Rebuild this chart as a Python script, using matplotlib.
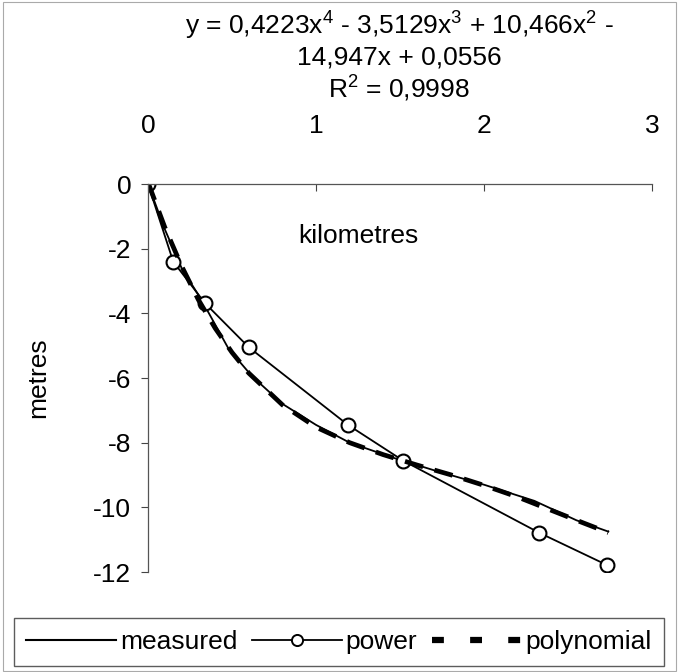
import matplotlib
matplotlib.use('Agg')
import matplotlib.pyplot as plt
from matplotlib.patches import Rectangle
from matplotlib.lines import Line2D

plt.rcParams['font.family'] = ['Liberation Sans', 'DejaVu Sans']
plt.rcParams['mathtext.fontset'] = 'custom'
plt.rcParams['mathtext.rm'] = 'Liberation Sans'
plt.rcParams['mathtext.it'] = 'Liberation Sans'
plt.rcParams['axes.unicode_minus'] = False

# data
x_meas = [0, 0.1, 0.2, 0.32, 0.48, 0.62, 0.8, 1.0, 1.2, 1.45, 1.7, 2.0, 2.3, 2.55, 2.74]
y_meas = [0, -1.4, -2.6, -3.6, -5.1, -5.95, -6.8, -7.45, -8.0, -8.45, -8.85, -9.3, -9.8, -10.4, -10.75]

x_pow = [0, 0.15, 0.34, 0.6, 1.19, 1.52, 2.33, 2.73]
y_pow = [0, -2.4, -3.69, -5.05, -7.45, -8.56, -10.79, -11.78]

x_poly = [0, 0.1, 0.2, 0.3, 0.4, 0.5, 0.6, 0.8, 1.0, 1.2, 1.4, 1.6, 1.8, 2.0, 2.2, 2.4, 2.6, 2.74]
y_poly = [0.05, -1.34, -2.54, -3.58, -4.46, -5.21, -5.85, -6.83, -7.52, -8.0, -8.37, -8.69, -8.99,
          -9.32, -9.68, -10.09, -10.5, -10.78]

x_ticks = [0, 1, 2, 3]
y_ticks = [0, -2, -4, -6, -8, -10, -12]

eq_lines = ['y = 0,4223x$^4$ - 3,5129x$^3$ + 10,466x$^2$ -',
            '14,947x + 0,0556',
            'R$^2$ = 0,9998']

fs = 19
fig = plt.figure(figsize=(6.78, 6.72), dpi=100)
ax = fig.add_axes([148 / 678, 1 - 572 / 672, 504 / 678, 388 / 672])

ax.plot(x_meas, y_meas, color='black', lw=1.3)
ax.plot(x_pow, y_pow, color='black', lw=1.3, marker='o', markersize=10,
        markerfacecolor='white', markeredgecolor='black', markeredgewidth=1.5)
ax.plot(x_poly, y_poly, color='black', lw=3.4, linestyle=(0, (4, 2.5)))

ax.set_xlim(0, 3)
ax.set_ylim(-12, 0)
ax.set_xticks(x_ticks)
ax.set_yticks(y_ticks)
ax.xaxis.tick_top()
ax.tick_params(axis='x', direction='in', length=5, width=0.8, colors='#444', labelcolor='black',
               labelsize=fs, pad=33)
ax.tick_params(axis='y', direction='out', length=5, width=0.8, colors='#444', labelcolor='black',
               labelsize=fs, pad=7)
for s in ['right', 'bottom']:
    ax.spines[s].set_visible(False)
for s in ['left', 'top']:
    ax.spines[s].set_color('#555')
    ax.spines[s].set_linewidth(0.9)

ax.text(0.417, 0.866, 'kilometres', transform=ax.transAxes, ha='center', va='center', fontsize=fs)
ax.set_ylabel('metres', fontsize=fs)
ax.yaxis.set_label_coords(-0.195, 0.5)

for i, line in enumerate(eq_lines):
    fig.text(399 / 678, 1 - (26 + 31.5 * i) / 672, line, ha='center', va='center', fontsize=fs)

# legend handles styled like the spreadsheet legend
handles = [Line2D([], [], color='black', lw=1.5),
           Line2D([], [], color='black', lw=1.3, marker='o', markersize=8,
                  markerfacecolor='white', markeredgewidth=1.4),
           Line2D([], [], color='black', lw=4.5, linestyle=(0, (1.9, 4.2)))]
labels = ['measured', 'power', 'polynomial']
leg = fig.legend(handles, labels, loc='center', bbox_to_anchor=(339 / 678, 1 - 642 / 672),
                 ncol=3, fontsize=fs, frameon=True, fancybox=False,
                 handlelength=3.4, handletextpad=0.15, columnspacing=0.55, borderaxespad=0,
                 borderpad=0.45)
leg.get_frame().set_edgecolor('#333')
leg.get_frame().set_linewidth(1.0)

# outer chart border
fig.patches.append(Rectangle((3 / 678, 1 / 672), 673 / 678, 669 / 672, transform=fig.transFigure,
                             fill=False, edgecolor='#aaa', lw=0.8))

fig.savefig('out.png', dpi=100)
